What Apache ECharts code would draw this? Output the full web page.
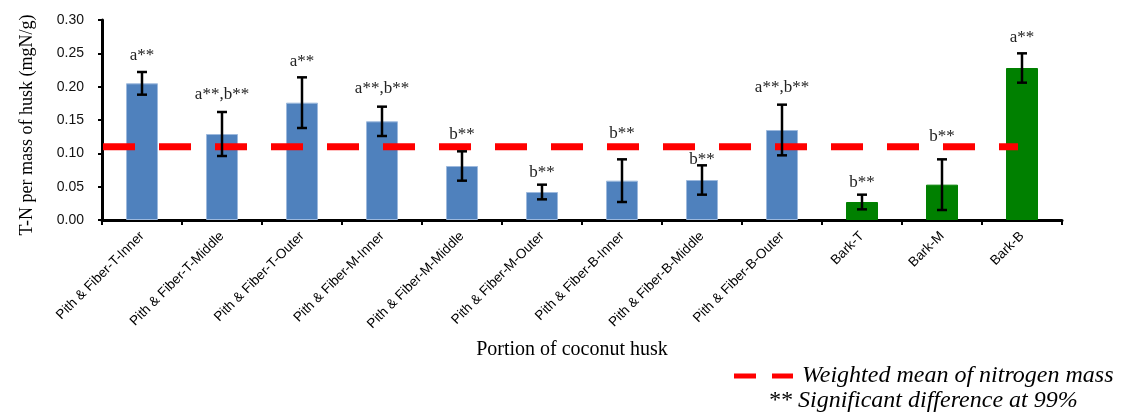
<!DOCTYPE html>
<html>
<head>
<meta charset="utf-8">
<script src="https://cdn.jsdelivr.net/npm/echarts@6/dist/echarts.min.js"></script>
<style>
  html, body { margin: 0; padding: 0; background: #ffffff; }
  #chart { width: 1123px; height: 420px; }
</style>
</head>
<body>
<div id="chart"></div>
<script>
// ---- Data ----
const categories = [
  'Pith & Fiber-T-Inner', 'Pith & Fiber-T-Middle', 'Pith & Fiber-T-Outer',
  'Pith & Fiber-M-Inner', 'Pith & Fiber-M-Middle', 'Pith & Fiber-M-Outer',
  'Pith & Fiber-B-Inner', 'Pith & Fiber-B-Middle', 'Pith & Fiber-B-Outer',
  'Bark-T', 'Bark-M', 'Bark-B'
];
const meanValues = [0.205, 0.129, 0.176, 0.148, 0.081, 0.042, 0.059, 0.060, 0.135, 0.027, 0.053, 0.228];
const errorValues = [0.017, 0.033, 0.038, 0.022, 0.022, 0.011, 0.032, 0.022, 0.038, 0.011, 0.038, 0.022];
const groups = ['Pith & Fiber', 'Pith & Fiber', 'Pith & Fiber', 'Pith & Fiber', 'Pith & Fiber', 'Pith & Fiber',
                'Pith & Fiber', 'Pith & Fiber', 'Pith & Fiber', 'Bark', 'Bark', 'Bark'];
const significanceLabels = ['a**', 'a**,b**', 'a**', 'a**,b**', 'b**', 'b**', 'b**', 'b**', 'a**,b**', 'b**', 'b**', 'a**'];
const weightedMean = 0.11;
const yTicks = { min: 0, max: 0.30, interval: 0.05 };

// ---- Presentation (not data) ----
const labelLift = [16, 17, 16, 18, 17, 12, 26, 6, 17, 12, 23, 16];
const groupColors = { 'Pith & Fiber': '#4F81BD', 'Bark': '#008000' };
const groupBorders = { 'Pith & Fiber': '#9DB9DD', 'Bark': '#008000' };
const serif = '"Liberation Serif", "Times New Roman", serif';
const sans = '"Liberation Sans", Arial, sans-serif';
const meanName = 'Weighted mean of nitrogen mass';

const chart = echarts.init(document.getElementById('chart'), null, { renderer: 'canvas' });

const barData = meanValues.map((v, i) => ({
  value: v,
  itemStyle: { color: groupColors[groups[i]], borderColor: groupBorders[groups[i]], borderWidth: 1 }
}));
const errData = meanValues.map((v, i) => [i, v, errorValues[i]]);

const option = {
  backgroundColor: '#ffffff',
  animation: false,
  grid: { left: 102, right: 61, top: 20, bottom: 200, containLabel: false },
  xAxis: {
    type: 'category',
    data: categories,
    boundaryGap: true,
    name: 'Portion of coconut husk',
    nameLocation: 'middle',
    nameGap: 120,
    nameTextStyle: { fontFamily: serif, fontSize: 20, color: '#000', padding: [0, 20, 0, 0] },
    axisLine: { show: true, lineStyle: { color: '#000', width: 3 } },
    axisTick: { show: true, alignWithLabel: false, length: 5, lineStyle: { color: '#000', width: 2 } },
    axisLabel: { rotate: 45, interval: 0, margin: 14, fontFamily: sans, fontSize: 13.5, color: '#000' },
    splitLine: { show: false }
  },
  yAxis: {
    type: 'value',
    min: yTicks.min,
    max: yTicks.max,
    interval: yTicks.interval,
    name: 'T-N per mass of husk (mgN/g)',
    nameLocation: 'middle',
    nameGap: 66,
    nameTextStyle: { fontFamily: serif, fontSize: 18, color: '#000', padding: [0, 10, 0, 0] },
    axisLine: { show: true, lineStyle: { color: '#000', width: 3 } },
    axisTick: { show: true, inside: false, length: 4, lineStyle: { color: '#000', width: 2 } },
    axisLabel: { fontFamily: sans, fontSize: 14, color: '#111', margin: 18,
                 formatter: v => v.toFixed(2) },
    splitLine: { show: false }
  },
  legend: {
    show: true,
    left: 734,
    top: 364,
    padding: 0,
    itemWidth: 59,
    itemHeight: 5,
    itemGap: 0,
    selectedMode: false,
    data: [{ name: meanName, icon: 'path://M0,0H22V5H0Z M38,0H59V5H38Z', itemStyle: { color: '#FF0000' } }],
    textStyle: { fontFamily: serif, fontStyle: 'italic', fontSize: 24, color: '#000', padding: [0, 0, 0, 4] }
  },
  graphic: [{
    type: 'text',
    left: 768,
    top: 389,
    style: { text: '** Significant difference at 99%', font: 'italic 24px ' + serif, fill: '#000' }
  }],
  series: [
    {
      name: 'T-N',
      type: 'bar',
      data: barData,
      barWidth: '40%',
      z: 2
    },
    {
      name: meanName,
      type: 'custom',
      data: [[0, weightedMean]],
      itemStyle: { color: '#FF0000' },
      z: 3,
      renderItem: function (params, api) {
        const v = api.value(1);
        const band = api.size([1, 0])[0];
        const start = api.coord([0, v]);
        const end = api.coord([categories.length - 1, v]);
        return {
          type: 'line',
          shape: { x1: start[0] - band / 2 + 1, y1: start[1], x2: end[0] - 4, y2: end[1] },
          style: { stroke: '#FF0000', lineWidth: 7, lineDash: [32, 24] }
        };
      }
    },
    {
      name: 'Error',
      type: 'custom',
      data: errData,
      z: 4,
      renderItem: function (params, api) {
        const i = api.value(0);
        const m = api.value(1);
        const e = api.value(2);
        const top = api.coord([i, m + e]);
        const bot = api.coord([i, m - e]);
        const cap = 5;
        const style = { stroke: '#000', lineWidth: 2.5 };
        return {
          type: 'group',
          children: [
            { type: 'line', shape: { x1: top[0], y1: top[1], x2: bot[0], y2: bot[1] }, style },
            { type: 'line', shape: { x1: top[0] - cap, y1: top[1], x2: top[0] + cap, y2: top[1] }, style },
            { type: 'line', shape: { x1: bot[0] - cap, y1: bot[1], x2: bot[0] + cap, y2: bot[1] }, style },
            {
              type: 'text',
              x: top[0],
              y: top[1] - labelLift[params.dataIndex],
              style: {
                text: significanceLabels[params.dataIndex],
                font: '17px ' + serif,
                fill: '#222',
                align: 'center',
                verticalAlign: 'middle'
              }
            }
          ]
        };
      }
    }
  ]
};

chart.setOption(option);
</script>
</body>
</html>
